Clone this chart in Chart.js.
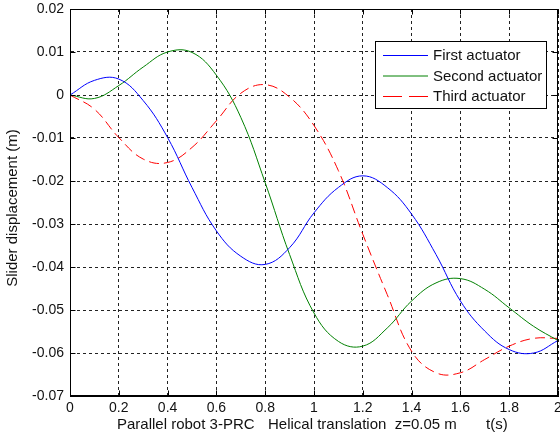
<!DOCTYPE html>
<html>
<head>
<meta charset="utf-8">
<script src="https://cdn.jsdelivr.net/npm/chart.js@4.4.0/dist/chart.umd.min.js"></script>
<style>
html,body{margin:0;padding:0;background:#fff}
#wrap{width:560px;height:441px;position:relative}
</style>
</head>
<body>
<div id="wrap"><canvas id="sliderChart"></canvas></div>
<script>
// time samples (s)
const timeValues=[0,0.1,0.2,0.3,0.4,0.5,0.6,0.7,0.8,0.9,1.0,1.1,1.2,1.3,1.4,1.5,1.6,1.7,1.8,1.9,2.0]
// slider displacement (m)
const firstActuator=[0,0.0034,0.0037,-0.0013,-0.0099,-0.0215,-0.0316,-0.0375,-0.0394,-0.0355,-0.0274,-0.0215,-0.0188,-0.0215,-0.0277,-0.0371,-0.0479,-0.0549,-0.0592,-0.0600,-0.0571]
const secondActuator=[0,-0.0008,0.0022,0.0065,0.0100,0.0099,0.0046,-0.0052,-0.0204,-0.0371,-0.0507,-0.0573,-0.0584,-0.0542,-0.0479,-0.0437,-0.0427,-0.0452,-0.0495,-0.0538,-0.0571]
const thirdActuator=[0,-0.0033,-0.0099,-0.0149,-0.0157,-0.0122,-0.0060,0.0004,0.0024,-0.0005,-0.0071,-0.0176,-0.0324,-0.0464,-0.0596,-0.0646,-0.0646,-0.0615,-0.0584,-0.0566,-0.0566]
const seriesNames=['First actuator','Second actuator','Third actuator']

// bottom caption, in three pieces like the original
const xTitleParts=[['Parallel robot 3-PRC',117],['Helical translation  z=0.05 m',268],['t(s)',486]]
const yTitle='Slider displacement (m)'
const family='"Liberation Sans", Arial, sans-serif'

const toPoints=vals=>vals.map((v,i)=>({x:timeValues[i],y:v}))

// box, inner ticks, axis titles and the legend, matlab style
const matlabFrame={
  id:'matlabFrame',
  afterDraw(chart){
    const {ctx,chartArea:a,scales:{x,y}}=chart
    const L=Math.round(a.left)+0.5,R=Math.round(a.right)-0.5,T=Math.round(a.top)+0.5,B=Math.round(a.bottom)-0.5
    ctx.save()
    ctx.strokeStyle='#000'
    ctx.lineWidth=1
    ctx.setLineDash([])
    ctx.strokeRect(L,T,R-L,B-T)
    ctx.beginPath()
    x.ticks.forEach(t=>{
      const px=Math.round(x.getPixelForValue(t.value))+0.5
      ctx.moveTo(px,B);ctx.lineTo(px,B-5)
      ctx.moveTo(px,T);ctx.lineTo(px,T+5)
    })
    y.ticks.forEach(t=>{
      const py=Math.round(y.getPixelForValue(t.value))+0.5
      ctx.moveTo(L,py);ctx.lineTo(L+5,py)
      ctx.moveTo(R,py);ctx.lineTo(R-5,py)
    })
    ctx.stroke()

    ctx.fillStyle='#111'
    ctx.font='15px '+family
    ctx.textBaseline='middle'
    ctx.textAlign='left'
    xTitleParts.forEach(([txt,px])=>ctx.fillText(txt,px,425))
    ctx.save()
    ctx.translate(13,208)
    ctx.rotate(-Math.PI/2)
    ctx.textAlign='center'
    ctx.fillText(yTitle,0,0)
    ctx.restore()

    // legend
    const bx=375.5,by=41.5,bw=171,bh=67
    ctx.fillStyle='#fff'
    ctx.fillRect(bx,by,bw,bh)
    ctx.strokeStyle='#000'
    ctx.strokeRect(bx,by,bw,bh)
    const rows=[55,75.5,96]
    chart.data.datasets.forEach((ds,i)=>{
      ctx.strokeStyle=ds.borderColor
      ctx.setLineDash(i===2?[19,7]:[])
      ctx.beginPath()
      ctx.moveTo(383,rows[i]+0.5);ctx.lineTo(428,rows[i]+0.5)
      ctx.stroke()
      ctx.setLineDash([])
      ctx.fillStyle='#111'
      ctx.fillText(ds.label,433,rows[i]+1)
    })
    ctx.restore()
  }
}

new Chart(document.getElementById('sliderChart'),{
  type:'line',
  data:{
    datasets:[
      {label:seriesNames[0],data:toPoints(firstActuator),borderColor:'#0000ff'},
      {label:seriesNames[1],data:toPoints(secondActuator),borderColor:'#008000'},
      {label:seriesNames[2],data:toPoints(thirdActuator),borderColor:'#ff0000',borderDash:[10,5]}
    ]
  },
  options:{
    responsive:true,
    maintainAspectRatio:false,
    animation:false,
    layout:{padding:{top:9,right:2,left:0,bottom:0}},
    elements:{
      line:{borderWidth:1,tension:0.4,fill:false},
      point:{radius:0,hoverRadius:0}
    },
    plugins:{legend:{display:false},tooltip:{enabled:false}},
    scales:{
      x:{
        type:'linear',min:0,max:2,
        ticks:{stepSize:0.2,color:'#111',font:{family:family,size:14},padding:4,maxRotation:0,
          callback:v=>String(+v.toFixed(1))},
        grid:{color:'#222',drawTicks:false},
        border:{dash:[3,3],color:'#000'},
        afterFit:s=>{s.height=45;s.paddingLeft=0;s.paddingRight=0}
      },
      y:{
        min:-0.07,max:0.02,
        ticks:{stepSize:0.01,color:'#111',font:{family:family,size:14},padding:6,
          callback:v=>Math.abs(v)<1e-9?'0':v.toFixed(2)},
        grid:{color:'#222',drawTicks:false},
        border:{dash:[3,3],color:'#000'},
        afterFit:s=>{s.width=70;s.paddingTop=0;s.paddingBottom=0}
      }
    }
  },
  plugins:[matlabFrame]
})
</script>
</body>
</html>
